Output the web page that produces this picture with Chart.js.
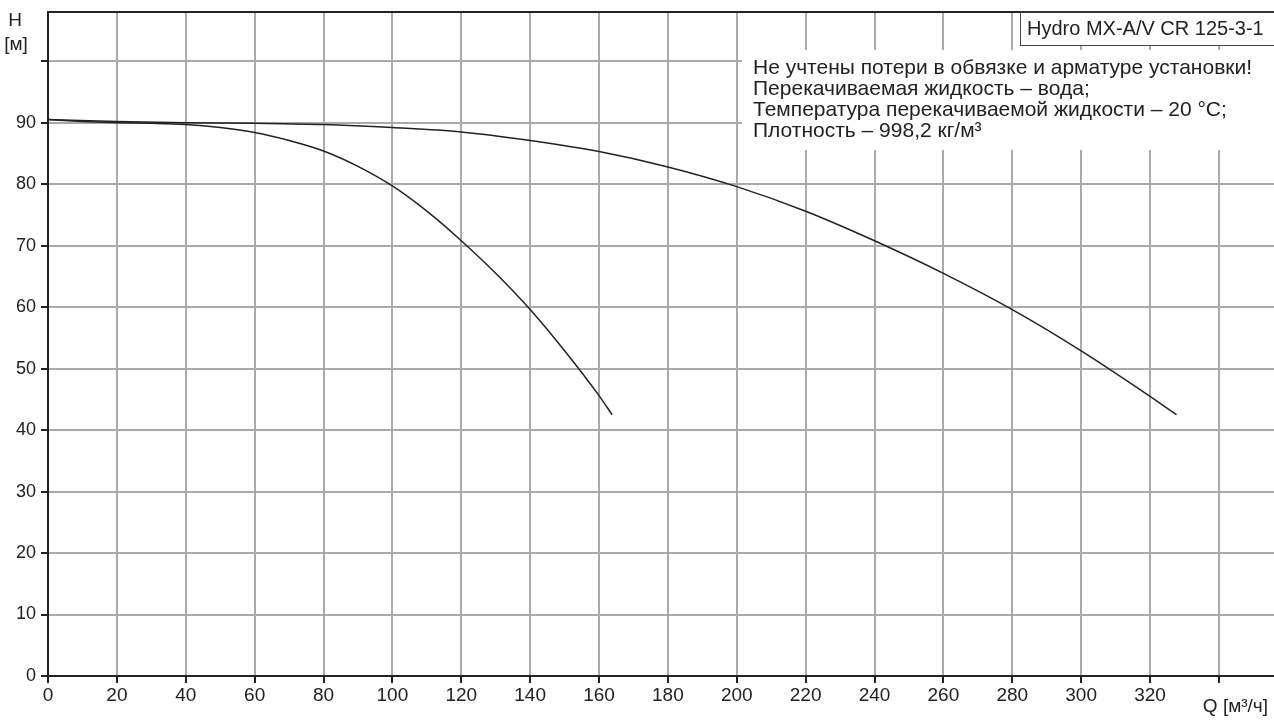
<!DOCTYPE html>
<html lang="ru">
<head>
    <meta charset="UTF-8">
    <title>Hydro MX-A/V CR 125-3-1</title>
    <script src="https://cdn.jsdelivr.net/npm/chart.js"></script>
    <style>
        body {
            margin: 0;
            padding: 0;
            background-color: #fff;
        }
        #chartBox {
            width: 1274px;
            height: 720px;
        }
    </style>
</head>
<body>
    <div id="chartBox">
        <canvas id="pumpCanvas" width="1274" height="720"></canvas>
    </div>

    <script>
        // Curve data (Q in m3/h, H in m)
        const qOnePump = [0, 10, 20, 30, 40, 50, 60, 70, 80, 90, 100, 110, 120, 130, 140, 150, 160, 163.8];
        const hOnePump = [90.5, 90.2, 90.0, 89.9, 89.7, 89.2, 88.4, 87.1, 85.4, 82.9, 79.7, 75.6, 70.8, 65.5, 59.6, 52.9, 45.6, 42.5];

        const qTwoPumps = [0, 20, 40, 60, 80, 100, 120, 140, 160, 180, 200, 220, 240, 260, 280, 300, 320, 327.7];
        const hTwoPumps = [90.5, 90.2, 90.0, 89.9, 89.7, 89.2, 88.5, 87.1, 85.3, 82.8, 79.6, 75.6, 70.8, 65.5, 59.6, 52.9, 45.5, 42.5];

        const xLabelMax = 320;   // last labelled Q tick
        const yLabelMax = 90;    // last labelled H tick

        const titleText = 'Hydro MX-A/V CR 125-3-1';
        const noteLines = [
            'Не учтены потери в обвязке и арматуре установки!',
            'Перекачиваемая жидкость – вода;',
            'Температура перекачиваемой жидкости – 20 °C;',
            'Плотность – 998,2 кг/м³'
        ];

        const FONT = '"Liberation Sans", Arial, sans-serif';
        const INK = '#222';

        function toPoints(xs, ys) {
            return xs.map((x, i) => ({ x: x, y: ys[i] }));
        }

        // Draws the frame top, the note block, title box and axis titles
        const decorPlugin = {
            id: 'decor',
            beforeDatasetsDraw(chart) {
                const c = chart.ctx;
                const area = chart.chartArea;
                c.save();
                // white block behind the notes hides the grid
                c.fillStyle = '#fff';
                c.fillRect(742, 50, area.right - 742, 100);
                c.fillRect(1020, area.top, area.right - 1020, 34);
                c.restore();
            },
            afterDraw(chart) {
                const c = chart.ctx;
                const area = chart.chartArea;
                c.save();
                // top frame line
                c.strokeStyle = INK;
                c.lineWidth = 2;
                c.beginPath();
                c.moveTo(area.left, area.top);
                c.lineTo(area.right, area.top);
                c.stroke();

                // title box
                c.lineWidth = 1;
                c.strokeStyle = '#444';
                c.strokeRect(1020.5, area.top, area.right - 1020, 33.5);
                c.fillStyle = INK;
                c.font = '20px ' + FONT;
                c.textBaseline = 'middle';
                c.textAlign = 'left';
                c.fillText(titleText, 1027, area.top + 17);

                // notes
                c.font = '21px ' + FONT;
                c.textBaseline = 'alphabetic';
                noteLines.forEach((line, i) => {
                    c.fillText(line, 753, 73.5 + i * 21);
                });

                // axis titles
                c.font = '19px ' + FONT;
                c.textBaseline = 'middle';
                c.textAlign = 'center';
                c.fillText('H', 15, 21);
                c.fillText('[м]', 16, 45);
                c.textAlign = 'right';
                c.fillText('Q [м³/ч]', 1268, 707);
                c.restore();
            }
        };

        const ctx = document.getElementById('pumpCanvas').getContext('2d');
        const pumpChart = new Chart(ctx, {
            type: 'line',
            data: {
                datasets: [
                    {
                        label: '1 насос',
                        data: toPoints(qOnePump, hOnePump),
                        borderColor: INK,
                        borderWidth: 1.5,
                        pointRadius: 0,
                        fill: false,
                        cubicInterpolationMode: 'monotone'
                    },
                    {
                        label: '2 насоса',
                        data: toPoints(qTwoPumps, hTwoPumps),
                        borderColor: INK,
                        borderWidth: 1.5,
                        pointRadius: 0,
                        fill: false,
                        cubicInterpolationMode: 'monotone'
                    }
                ]
            },
            options: {
                responsive: false,
                animation: false,
                layout: {
                    padding: { top: 12, right: 0, bottom: 0, left: 0 }
                },
                plugins: {
                    legend: { display: false },
                    tooltip: { enabled: false }
                },
                scales: {
                    x: {
                        type: 'linear',
                        min: 0,
                        max: 356,
                        afterFit(scale) { scale.height = 44; },
                        ticks: {
                            stepSize: 20,
                            includeBounds: false,
                            maxRotation: 0,
                            autoSkip: false,
                            padding: 1,
                            color: INK,
                            font: { family: FONT, size: 19 },
                            callback: v => (v <= xLabelMax ? v : '')
                        },
                        grid: {
                            color: '#aaa',
                            lineWidth: 2,
                            tickColor: INK,
                            tickLength: 7,
                            tickWidth: 2
                        },
                        border: { color: INK, width: 2 }
                    },
                    y: {
                        type: 'linear',
                        min: 0,
                        max: 108,
                        afterFit(scale) {
                            scale.width = 48;
                            scale.paddingTop = 0;
                        },
                        ticks: {
                            stepSize: 10,
                            includeBounds: false,
                            padding: 5,
                            color: INK,
                            font: { family: FONT, size: 18, lineHeight: 1 },
                            callback: v => (v <= yLabelMax ? v : '')
                        },
                        grid: {
                            color: '#aaa',
                            lineWidth: 2,
                            tickColor: INK,
                            tickLength: 7,
                            tickWidth: 2
                        },
                        border: { color: INK, width: 2 }
                    }
                }
            },
            plugins: [decorPlugin]
        });
    </script>
</body>
</html>
